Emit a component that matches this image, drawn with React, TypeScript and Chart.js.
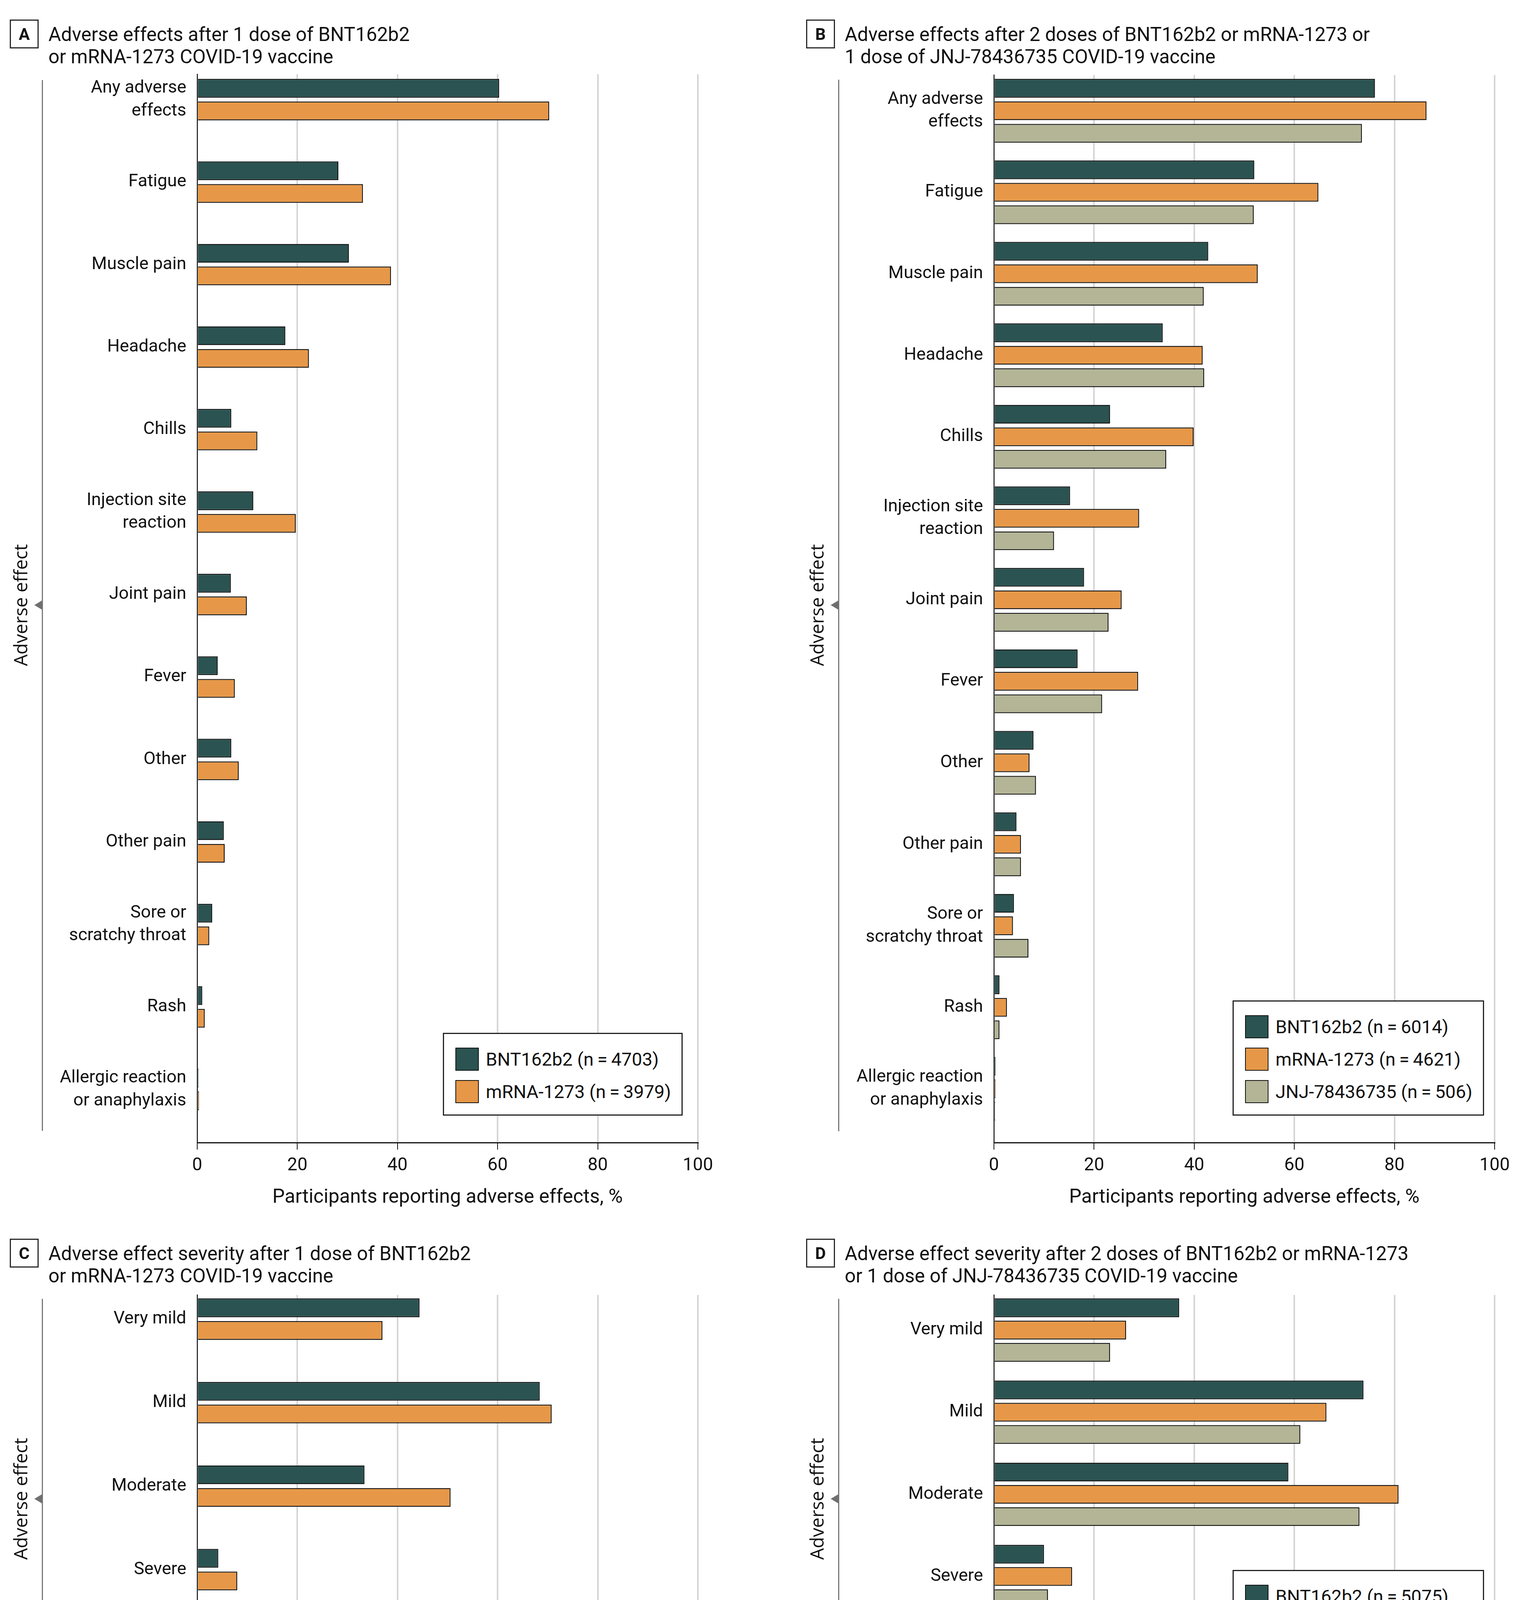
import React, { useEffect, useRef } from 'react';
import { Chart, registerables } from 'chart.js';

Chart.register(...registerables);

// ---------- data ----------
const effectLabels: (string | string[])[] = [
  ['Any adverse', 'effects'],
  'Fatigue',
  'Muscle pain',
  'Headache',
  'Chills',
  ['Injection site', 'reaction'],
  'Joint pain',
  'Fever',
  'Other',
  'Other pain',
  ['Sore or', 'scratchy throat'],
  'Rash',
  ['Allergic reaction', 'or anaphylaxis'],
];
const severityLabels: string[] = ['Very mild', 'Mild', 'Moderate', 'Severe', 'Very severe'];

const xTicksEffects = [0, 20, 40, 60, 80, 100];
const xTicksSeverity = [0, 10, 20, 30, 40, 50];

// Panel A: after 1 dose
const aBNT = [60.3, 28.2, 30.3, 17.6, 6.8, 11.2, 6.7, 4.1, 6.8, 5.3, 3.0, 1.0, 0.25];
const aMRNA = [70.3, 33.1, 38.7, 22.3, 12.0, 19.7, 9.9, 7.5, 8.3, 5.5, 2.4, 1.5, 0.35];
// Panel B: after 2 doses (or 1 dose JNJ)
const bBNT = [76.1, 52.0, 42.8, 33.7, 23.2, 15.2, 18.0, 16.7, 7.9, 4.5, 4.0, 1.1, 0.3];
const bMRNA = [86.4, 64.8, 52.7, 41.7, 39.9, 29.0, 25.5, 28.8, 7.1, 5.4, 3.8, 2.6, 0.3];
const bJNJ = [73.5, 51.9, 41.9, 42.0, 34.4, 12.0, 22.9, 21.6, 8.4, 5.4, 6.9, 1.1, 0.25];
// Panel C: severity after 1 dose
const cBNT = [22.2, 34.2, 16.7, 2.1, 0.15];
const cMRNA = [18.5, 35.4, 25.3, 4.0, 0.2];
// Panel D: severity after 2 doses (or 1 dose JNJ)
const dBNT = [18.5, 36.9, 29.4, 5.0, 0.4];
const dMRNA = [13.2, 33.2, 40.4, 7.8, 0.8];
const dJNJ = [11.6, 30.6, 36.5, 5.4, 0.2];

const legendA = ['BNT162b2 (n\u2009=\u20094703)', 'mRNA-1273 (n\u2009=\u20093979)'];
const legendB = ['BNT162b2 (n\u2009=\u20096014)', 'mRNA-1273 (n\u2009=\u20094621)', 'JNJ-78436735 (n\u2009=\u2009506)'];
const legendC = ['BNT162b2 (n\u2009=\u20093746)', 'mRNA-1273 (n\u2009=\u20093347)'];
const legendD = ['BNT162b2 (n\u2009=\u20095075)', 'mRNA-1273 (n\u2009=\u20094178)', 'JNJ-78436735 (n\u2009=\u2009441)'];

// ---------- style ----------
const COLORS = ['#2A5351', '#E69848', '#B3B596'];
const FONT = 'Roboto, "Noto Sans", "DejaVu Sans", sans-serif';
const SIDE_FONT = '"Open Sans", "Noto Sans", sans-serif';
const INK = '#111111';

type PanelProps = {
  left: number; top: number; width: number; height: number;
  plotTop: number; yAxisW: number; padRight: number; xAxisH: number;
  yMin: number; yMax: number; xMax: number; xStep: number;
  catPct: number; barPct: number;
  labels: (string | string[])[];
  series: number[][];
  names: string[];
};

function BarPanel(p: PanelProps) {
  const ref = useRef<HTMLCanvasElement | null>(null);
  useEffect(() => {
    if (!ref.current) return;
    const datasets = p.series.map((vals, si) => ({
      label: p.names[si],
      data: vals.map((v, i) => ({ x: v, y: i })),
      backgroundColor: COLORS[si],
      borderColor: INK,
      borderWidth: 2.5,
      categoryPercentage: p.catPct,
      barPercentage: p.barPct,
    }));
    const chart = new Chart(ref.current, {
      type: 'bar',
      data: { datasets },
      options: {
        indexAxis: 'y',
        responsive: false,
        animation: false,
        devicePixelRatio: 1,
        layout: { padding: { top: p.plotTop, right: p.padRight, left: 0, bottom: 0 } },
        plugins: { legend: { display: false }, tooltip: { enabled: false } },
        scales: {
          x: {
            type: 'linear',
            position: 'bottom',
            min: 0,
            max: p.xMax,
            offset: false,
            ticks: { stepSize: p.xStep, font: { family: FONT, size: 46 }, color: INK, padding: 14 },
            grid: {
              color: (ctx: any) => (ctx.tick && ctx.tick.value === 0 ? 'rgba(0,0,0,0)' : '#d5d5d5'),
              lineWidth: 4,
              tickColor: INK,
              tickLength: 18,
              tickWidth: 2,
            },
            border: { display: true, color: INK, width: 3 },
            title: {
              display: true,
              text: 'Participants reporting adverse effects, %',
              font: { family: FONT, size: 50 },
              color: INK,
              padding: { top: 0, bottom: 24 },
            },
            afterFit: (s: any) => { s.height = p.xAxisH; },
          } as any,
          y: {
            type: 'linear',
            reverse: true,
            offset: false,
            min: p.yMin,
            max: p.yMax,
            afterBuildTicks: (s: any) => { s.ticks = p.labels.map((_, i) => ({ value: i })); },
            ticks: {
              autoSkip: false,
              callback: (v: any) => p.labels[Math.round(Number(v))] as any,
              font: { family: FONT, size: 45, lineHeight: 1.3 },
              color: INK,
              padding: 28,
            },
            grid: { display: false, drawTicks: false, offset: false },
            border: { display: true, color: INK, width: 2.5 },
            afterFit: (s: any) => { s.width = p.yAxisW; },
          } as any,
        },
      },
    });
    return () => chart.destroy();
  }, []);
  return (
    <canvas
      ref={ref}
      width={p.width}
      height={p.height}
      style={{ position: 'absolute', left: p.left, top: p.top, width: p.width, height: p.height }}
    />
  );
}

function PanelTitle({ letter, x, y, lines }: { letter: string; x: number; y: number; lines: string[] }) {
  return (
    <>
      <div
        style={{
          position: 'absolute', left: x, top: y, width: 74, height: 74, boxSizing: 'border-box',
          border: '3px solid #2a2a2a', display: 'flex', alignItems: 'center', justifyContent: 'center',
          fontFamily: FONT, fontWeight: 700, fontSize: 42, color: INK,
        }}
      >
        {letter}
      </div>
      <div
        style={{
          position: 'absolute', left: x + 99, top: y + 10, fontFamily: FONT, fontSize: 49.5,
          lineHeight: '57px', color: INK, whiteSpace: 'nowrap',
        }}
      >
        {lines.map((l, i) => (<div key={i}>{l}</div>))}
      </div>
    </>
  );
}

function SideLabel({ lineX, top, bottom, triY }: { lineX: number; top: number; bottom: number; triY: number }) {
  return (
    <>
      <div style={{ position: 'absolute', left: lineX - 1.5, top, width: 3, height: bottom - top, background: '#7a7a7a' }} />
      <div
        style={{
          position: 'absolute', left: lineX - 20, top: triY - 12, width: 0, height: 0,
          borderTop: '12px solid transparent', borderBottom: '12px solid transparent', borderRight: '20px solid #6f6f6f',
        }}
      />
      <div
        style={{
          position: 'absolute', left: lineX - 56, top: triY, transform: 'translate(-50%, -50%) rotate(-90deg)',
          fontFamily: SIDE_FONT, fontSize: 47, lineHeight: 1, color: INK, whiteSpace: 'nowrap',
        }}
      >
        Adverse effect
      </div>
    </>
  );
}

function Legend({ x, y, w, h, names }: { x: number; y: number; w: number; h: number; names: string[] }) {
  return (
    <div
      style={{
        position: 'absolute', left: x, top: y, width: w, height: h, boxSizing: 'border-box',
        border: '3px solid #222', background: '#fff',
      }}
    >
      {names.map((n, i) => (
        <div key={i} style={{ position: 'absolute', left: 29, top: 64 + i * 83 - 30, height: 60, display: 'flex', alignItems: 'center' }}>
          <div style={{ width: 60, height: 59, boxSizing: 'border-box', border: '2.5px solid #111', background: COLORS[i] }} />
          <div style={{ marginLeft: 18, fontFamily: FONT, fontSize: 47, color: INK, whiteSpace: 'nowrap' }}>{n}</div>
        </div>
      ))}
    </div>
  );
}

export default function App() {
  return (
    <div style={{ position: 'absolute', left: 0, top: 0, width: 3892, height: 4575, background: '#fff', overflow: 'hidden' }}>
      <BarPanel
        left={0} top={0} width={1946} height={3120}
        plotTop={190} yAxisW={505} padRight={159} xAxisH={195}
        yMin={-0.308} yMax={12.644} xMax={100} xStep={xTicksEffects[1] - xTicksEffects[0]}
        catPct={0.549} barPct={0.828}
        labels={effectLabels} series={[aBNT, aMRNA]} names={legendA}
      />
      <BarPanel
        left={1946} top={0} width={1946} height={3120}
        plotTop={192} yAxisW={599} padRight={65} xAxisH={195}
        yMin={-0.439} yMax={12.66} xMax={100} xStep={xTicksEffects[1] - xTicksEffects[0]}
        catPct={0.828} barPct={0.833}
        labels={effectLabels} series={[bBNT, bMRNA, bJNJ]} names={legendB}
      />
      <BarPanel
        left={0} top={3150} width={1946} height={1425}
        plotTop={165} yAxisW={505} padRight={159} xAxisH={192}
        yMin={-0.29} yMax={4.706} xMax={50} xStep={xTicksSeverity[1] - xTicksSeverity[0]}
        catPct={0.543} barPct={0.828}
        labels={severityLabels} series={[cBNT, cMRNA]} names={legendC}
      />
      <BarPanel
        left={1946} top={3150} width={1946} height={1425}
        plotTop={165} yAxisW={599} padRight={65} xAxisH={192}
        yMin={-0.428} yMax={4.652} xMax={50} xStep={xTicksSeverity[1] - xTicksSeverity[0]}
        catPct={0.813} barPct={0.842}
        labels={severityLabels} series={[dBNT, dMRNA, dJNJ]} names={legendD}
      />

      <PanelTitle letter="A" x={25} y={50} lines={['Adverse effects after 1 dose of BNT162b2', 'or mRNA-1273 COVID-19 vaccine']} />
      <PanelTitle letter="B" x={2064} y={50} lines={['Adverse effects after 2 doses of BNT162b2 or mRNA-1273 or', '1 dose of JNJ-78436735 COVID-19 vaccine']} />
      <PanelTitle letter="C" x={25} y={3171} lines={['Adverse effect severity after 1 dose of BNT162b2', 'or mRNA-1273 COVID-19 vaccine']} />
      <PanelTitle letter="D" x={2064} y={3171} lines={['Adverse effect severity after 2 doses of BNT162b2 or mRNA-1273', 'or 1 dose of JNJ-78436735 COVID-19 vaccine']} />

      <SideLabel lineX={108} top={205} bottom={2895} triY={1549} />
      <SideLabel lineX={2147} top={204} bottom={2896} triY={1549} />
      <SideLabel lineX={108} top={3325} bottom={4352} triY={3837} />
      <SideLabel lineX={2147} top={3325} bottom={4352} triY={3837} />

      <Legend x={1134} y={2644} w={614} h={212} names={legendA} />
      <Legend x={3156} y={2561} w={644} h={295} names={legendB} />
      <Legend x={1134} y={4103} w={614} h={211} names={legendC} />
      <Legend x={3156} y={4019} w={644} h={295} names={legendD} />
    </div>
  );
}
